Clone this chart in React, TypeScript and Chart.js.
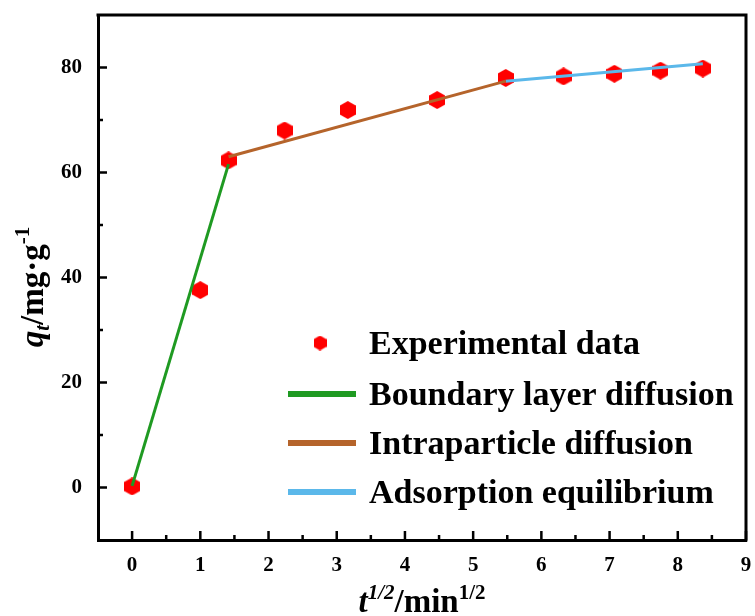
import React, { useEffect, useRef } from "react";
import { Chart, registerables } from "chart.js";

Chart.register(...registerables);

// ---- data ----
const sqrtTime = [0, 1, 1.414, 2.236, 3.162, 4.472, 5.477, 6.325, 7.071, 7.746, 8.367];
const qtValues = [0.2, 37.6, 62.3, 68.0, 71.9, 73.8, 78.0, 78.3, 78.8, 79.4, 79.8];

const boundaryX = [0, 1.414];
const boundaryY = [0.3, 61.6];
const intraX = [1.414, 5.477];
const intraY = [63.0, 77.4];
const equilX = [5.477, 8.367];
const equilY = [77.4, 80.7];

const xTickValues = [0, 1, 2, 3, 4, 5, 6, 7, 8, 9];
const xMinorValues = [0.5, 1.5, 2.5, 3.5, 4.5, 5.5, 6.5, 7.5, 8.5];
const yTickValues = [0, 20, 40, 60, 80];
const yMinorValues = [10, 30, 50, 70];

const legendLabels = [
  "Experimental data",
  "Boundary layer diffusion",
  "Intraparticle diffusion",
  "Adsorption equilibrium",
];

const RED = "#ff0000";
const GREEN = "#1f9a22";
const BROWN = "#b5642b";
const BLUE = "#5bb8ea";

const SERIF = "'Liberation Serif', 'Times New Roman', serif";

function hexagon(w: number, h: number): HTMLCanvasElement {
  const c = document.createElement("canvas");
  c.width = w;
  c.height = h;
  const ctx = c.getContext("2d")!;
  const cx = w / 2;
  const cy = h / 2;
  const ry = h / 2;
  const rx = w / 2;
  ctx.beginPath();
  ctx.moveTo(cx, cy - ry);
  ctx.lineTo(cx + rx, cy - ry / 2);
  ctx.lineTo(cx + rx, cy + ry / 2);
  ctx.lineTo(cx, cy + ry);
  ctx.lineTo(cx - rx, cy + ry / 2);
  ctx.lineTo(cx - rx, cy - ry / 2);
  ctx.closePath();
  ctx.fillStyle = RED;
  ctx.fill();
  return c;
}

type Part = { text: string; font: string; dy: number };

function drawRich(ctx: CanvasRenderingContext2D, parts: Part[], cx: number, baseY: number) {
  let total = 0;
  for (const p of parts) {
    ctx.font = p.font;
    total += ctx.measureText(p.text).width;
  }
  let x = cx - total / 2;
  ctx.textBaseline = "alphabetic";
  ctx.textAlign = "left";
  for (const p of parts) {
    ctx.font = p.font;
    ctx.fillText(p.text, x, baseY + p.dy);
    x += ctx.measureText(p.text).width;
  }
}

const pointHex = hexagon(16, 18);
const legendHex = hexagon(13, 15);

const decorPlugin = {
  id: "decor",
  afterDatasetsDraw(chart: any) {
    const ctx: CanvasRenderingContext2D = chart.ctx;
    const { left, right, top, bottom } = chart.chartArea;
    const xs = chart.scales.x;
    const ys = chart.scales.y;
    ctx.save();
    ctx.strokeStyle = "#000";
    ctx.lineWidth = 3;
    ctx.beginPath();
    ctx.moveTo(left - 1.5, top);
    ctx.lineTo(right, top);
    ctx.lineTo(right, bottom + 1.5);
    ctx.stroke();
    ctx.lineWidth = 2.5;
    ctx.beginPath();
    for (const v of xTickValues) {
      const px = xs.getPixelForValue(v);
      ctx.moveTo(px, bottom);
      ctx.lineTo(px, bottom - 9);
    }
    for (const v of xMinorValues) {
      const px = xs.getPixelForValue(v);
      ctx.moveTo(px, bottom);
      ctx.lineTo(px, bottom - 5);
    }
    for (const v of yTickValues) {
      const py = ys.getPixelForValue(v);
      ctx.moveTo(left, py);
      ctx.lineTo(left + 9, py);
    }
    for (const v of yMinorValues) {
      const py = ys.getPixelForValue(v);
      ctx.moveTo(left, py);
      ctx.lineTo(left + 5, py);
    }
    ctx.stroke();
    ctx.restore();
  },
  afterDraw(chart: any) {
    const ctx: CanvasRenderingContext2D = chart.ctx;
    const { left, right } = chart.chartArea;
    ctx.save();
    ctx.fillStyle = "#000";
    const big = 33;
    const small = 21;
    drawRich(
      ctx,
      [
        { text: "t", font: `italic bold ${big}px ${SERIF}`, dy: 0 },
        { text: "1/2", font: `italic bold ${small}px ${SERIF}`, dy: -13 },
        { text: "/min", font: `bold ${big}px ${SERIF}`, dy: 0 },
        { text: "1/2", font: `bold ${small}px ${SERIF}`, dy: -13 },
      ],
      (left + right) / 2,
      612
    );
    ctx.save();
    ctx.translate(43, 287);
    ctx.rotate(-Math.PI / 2);
    drawRich(
      ctx,
      [
        { text: "q", font: `italic bold ${big}px ${SERIF}`, dy: 0 },
        { text: "t", font: `italic bold ${small}px ${SERIF}`, dy: 6 },
        { text: "/mg·g", font: `bold ${big}px ${SERIF}`, dy: 0 },
        { text: "-1", font: `bold ${small}px ${SERIF}`, dy: -14 },
      ],
      0,
      0
    );
    ctx.restore();

    // legend
    const symX0 = 288;
    const symX1 = 356;
    const textX = 369;
    const rows = [343, 394, 443, 492];
    const colors = [RED, GREEN, BROWN, BLUE];
    ctx.font = `bold 34px ${SERIF}`;
    ctx.textBaseline = "alphabetic";
    ctx.textAlign = "left";
    rows.forEach((y, i) => {
      if (i === 0) {
        ctx.drawImage(legendHex, 320 - legendHex.width / 2, y - legendHex.height / 2);
      } else {
        ctx.strokeStyle = colors[i];
        ctx.lineWidth = 6;
        ctx.beginPath();
        ctx.moveTo(symX0, y);
        ctx.lineTo(symX1, y);
        ctx.stroke();
      }
      ctx.fillStyle = "#000";
      ctx.fillText(legendLabels[i], textX, y + 11);
    });
    ctx.restore();
  },
};

export default function App() {
  const ref = useRef<HTMLCanvasElement | null>(null);

  useEffect(() => {
    document.body.style.margin = "0";
    const canvas = ref.current!;
    const tickFont = { family: SERIF, size: 21, weight: "bold" as const };
    const chart = new Chart(canvas, {
      type: "scatter",
      data: {
        datasets: [
          {
            label: legendLabels[1],
            type: "line",
            data: boundaryX.map((x, i) => ({ x, y: boundaryY[i] })),
            borderColor: GREEN,
            borderWidth: 3,
            pointRadius: 0,
            showLine: true,
            order: 1,
          } as any,
          {
            label: legendLabels[2],
            type: "line",
            data: intraX.map((x, i) => ({ x, y: intraY[i] })),
            borderColor: BROWN,
            borderWidth: 3,
            pointRadius: 0,
            showLine: true,
            order: 2,
          } as any,
          {
            label: legendLabels[3],
            type: "line",
            data: equilX.map((x, i) => ({ x, y: equilY[i] })),
            borderColor: BLUE,
            borderWidth: 3,
            pointRadius: 0,
            showLine: true,
            order: 3,
          } as any,
          {
            label: legendLabels[0],
            data: sqrtTime.map((x, i) => ({ x, y: qtValues[i] })),
            pointStyle: pointHex,
            backgroundColor: RED,
            borderColor: RED,
            pointRadius: 8,
            order: 4,
          } as any,
        ],
      },
      options: {
        animation: false,
        responsive: false,
        layout: { padding: { top: 15, right: 7, left: 0, bottom: 0 } },
        plugins: {
          legend: { display: false },
          tooltip: { enabled: false },
          title: { display: false },
        },
        scales: {
          x: {
            type: "linear",
            min: -0.5,
            max: 9,
            afterBuildTicks: (s: any) => {
              s.ticks = xTickValues.map((v) => ({ value: v }));
            },
            afterFit: (s: any) => {
              s.height = 76;
              s.paddingLeft = 0;
              s.paddingRight = 0;
              s.paddingTop = 0;
              s.paddingBottom = 0;
            },
            grid: { display: false, drawTicks: false },
            border: { display: true, color: "#000", width: 3 },
            ticks: { font: tickFont, color: "#000", padding: 13, maxRotation: 0 },
          },
          y: {
            type: "linear",
            min: -10,
            max: 90,
            afterBuildTicks: (s: any) => {
              s.ticks = yTickValues.map((v) => ({ value: v }));
            },
            afterFit: (s: any) => {
              s.width = 98;
              s.paddingLeft = 0;
              s.paddingRight = 0;
              s.paddingTop = 0;
              s.paddingBottom = 0;
            },
            grid: { display: false, drawTicks: false },
            border: { display: true, color: "#000", width: 3 },
            ticks: { font: tickFont, color: "#000", padding: 16 },
          },
        },
      },
      plugins: [decorPlugin],
    });
    return () => chart.destroy();
  }, []);

  return (
    <div style={{ position: "absolute", left: 0, top: 0, width: 755, height: 616, background: "#fff" }}>
      <canvas ref={ref} width={755} height={616} />
    </div>
  );
}
